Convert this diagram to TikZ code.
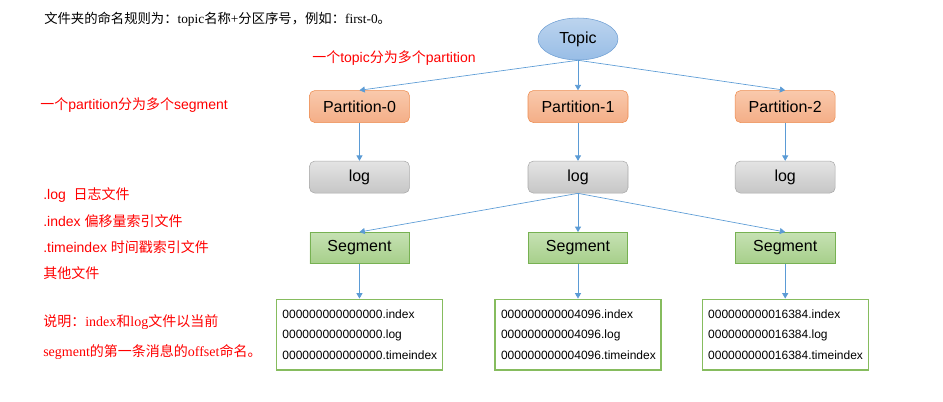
\documentclass[tikz,border=0pt]{standalone}
\usepackage{fontspec}
\setmainfont{Liberation Sans}
\newfontfamily\cjk{Noto Sans CJK SC}
\newfontfamily\tms{Liberation Serif}
\usetikzlibrary{shapes, arrows.meta, positioning}
\definecolor{linkblue}{HTML}{5B9BD5}
\definecolor{topicline}{HTML}{6D9ED3}
\definecolor{topictop}{HTML}{BCD4EE}
\definecolor{topicbot}{HTML}{98BDE6}
\definecolor{partline}{HTML}{ED8B4E}
\definecolor{parttop}{HTML}{F9C9AC}
\definecolor{partbot}{HTML}{F4AE87}
\definecolor{logline}{HTML}{A9A9A9}
\definecolor{logtop}{HTML}{E4E4E4}
\definecolor{logbot}{HTML}{C6C6C6}
\definecolor{segline}{HTML}{77B152}
\definecolor{segtop}{HTML}{C6E1B3}
\definecolor{segbot}{HTML}{A6CF8A}
\definecolor{fileline}{HTML}{86BC5E}
\tikzset{
    topicnode/.style={ellipse, draw=topicline, top color=topictop, bottom color=topicbot, minimum width=60pt, minimum height=31.5pt, inner sep=0pt, font=\fontsize{12}{14}\selectfont},
    partbox/.style={rectangle, draw=partline, rounded corners=4pt, top color=parttop, bottom color=partbot, minimum width=75pt, minimum height=24pt, font=\fontsize{12}{14}\selectfont},
    logbox/.style={rectangle, draw=logline, rounded corners=4pt, top color=logtop, bottom color=logbot, minimum width=75pt, minimum height=24pt, font=\fontsize{12}{14}\selectfont},
    segbox/.style={rectangle, draw=segline, top color=segtop, bottom color=segbot, minimum width=74.5pt, minimum height=23.5pt, font=\fontsize{12}{14}\selectfont},
    filebox/.style={rectangle, draw=fileline, line width=1pt, fill=white, minimum width=124.5pt, minimum height=53pt, inner sep=4.5pt, text width=115.5pt, align=left, font=\fontsize{9}{15.4}\selectfont},
    note/.style={text=red, anchor=west, inner sep=0pt, font=\fontsize{10.5}{12}\selectfont},
    link/.style={draw=linkblue, line width=0.5pt, -{Triangle[width=4.5pt, length=4pt]}}
}
\begin{document}
\begin{tikzpicture}[x=0.75pt, y=-0.75pt]
        \useasboundingbox (0,0) rectangle (943,401);

        % Remarks on the left
        \node (naming) [anchor=west, inner sep=0pt, font=\tms\fontsize{10}{12}\selectfont] at (44,19) {{\cjk 文件夹的命名规则为：}topic{\cjk 名称}+{\cjk 分区序号，例如：}first-0{\cjk 。}};
        \node (N_topic) [note] at (312,58) {{\cjk 一个}topic{\cjk 分为多个}partition};
        \node (N_part) [note] at (40,105) {{\cjk 一个}partition{\cjk 分为多个}segment};
        \node (N_log) [note] at (43,195) {.log\ \ {\cjk 日志文件}};
        \node (N_index) [note] at (43,221) {.index {\cjk 偏移量索引文件}};
        \node (N_time) [note] at (43,247) {.timeindex {\cjk 时间戳索引文件}};
        \node (N_other) [note] at (43,273) {\cjk 其他文件};
        \node (N_desc1) [note, font=\tms\fontsize{10.5}{12}\selectfont] at (43,322) {{\cjk 说明：}index{\cjk 和}log{\cjk 文件以当前}};
        \node (N_desc2) [note, font=\tms\fontsize{10.5}{12}\selectfont] at (43,352) {segment{\cjk 的第一条消息的}offset{\cjk 命名。}};

        % Topic and partitions
        \node (topic) [topicnode] at (578,39) {Topic};
        \node (P1) [partbox, below=22.5pt of topic] {Partition-1};
        \node (P0) [partbox, left=88.5pt of P1] {Partition-0};
        \node (P2) [partbox, right=80pt of P1] {Partition-2};

        \draw [link] (topic.south) -- (P0.north);
        \draw [link] (topic.south) -- (P1.north);
        \draw [link] (topic.south) -- (P2.north);

        % Logs
        \node (L0) [logbox, below=28.5pt of P0] {log};
        \node (L1) [logbox, below=28.5pt of P1] {log};
        \node (L2) [logbox, below=28.5pt of P2] {log};

        \draw [link] (P0) -- (L0);
        \draw [link] (P1) -- (L1);
        \draw [link] (P2) -- (L2);

        % Segments of the middle log
        \node (S0) [segbox, below=29pt of L0] {Segment};
        \node (S1) [segbox, below=29pt of L1] {Segment};
        \node (S2) [segbox, below=29pt of L2] {Segment};

        \draw [link] (L1.south) -- (S0.north);
        \draw [link] (L1.south) -- (S1.north);
        \draw [link] (L1.south) -- (S2.north);

        % Segment files
        \node (F0) [filebox, below=26pt of S0] {000000000000000.index\\000000000000000.log\\000000000000000.timeindex};
        \node (F1) [filebox, below=26pt of S1] {000000000004096.index\\000000000004096.log\\000000000004096.timeindex};
        \node (F2) [filebox, below=26pt of S2] {000000000016384.index\\000000000016384.log\\000000000016384.timeindex};

        \draw [link] (S0) -- (F0);
        \draw [link] (S1) -- (F1);
        \draw [link] (S2) -- (F2);
    \end{tikzpicture}
\end{document}
